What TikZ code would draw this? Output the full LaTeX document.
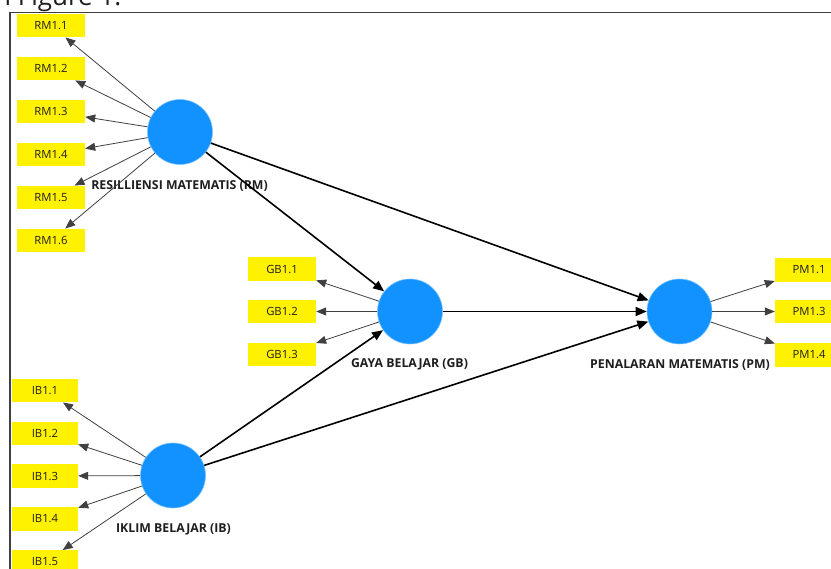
\documentclass[tikz,border=0pt]{standalone}
\usepackage{fontspec}
\setmainfont{Open Sans}
\usetikzlibrary{arrows.meta}
\definecolor{lv}{RGB}{18,146,255}
\definecolor{txt}{RGB}{30,30,30}
\begin{document}
\begin{tikzpicture}[x=1pt,y=-1pt,
  lat/.style={circle,fill=lv,draw=lv!55!white,line width=0.6pt,minimum size=65pt,inner sep=0pt},
  ind/.style={fill=yellow,minimum width=68pt,minimum height=23.5pt,inner sep=0pt,font=\fontsize{11.3}{13}\selectfont,text=txt},
  indb/.style={ind,minimum width=66pt},
  lbl/.style={font=\bfseries\fontsize{12.3}{14}\selectfont,text=txt},
  outer/.style={draw=black!75,line width=0.8pt,-{Triangle[length=10pt,width=8pt]}},
  inner/.style={draw=black,line width=1.6pt,-{Triangle[length=11pt,width=9pt]}}]
\useasboundingbox (0,0) rectangle (831,569);
\clip (0,0) rectangle (831,569);
% heading fragment
\node[anchor=base west,inner sep=0pt,font=\fontsize{26}{30}\selectfont,text=txt] (head) at (-5,6) {n Figure 1.};
% frame
\draw[draw=black!75,line width=1.5pt] (10,580) -- (10,12.5) -- (840,12.5);
% latent variables
\node[lat] (RM) at (180,132) {};
\node[lat] (GB) at (410,311.5) {};
\node[lat] (PM) at (679.5,311.5) {};
\node[lat] (IB) at (173,475.5) {};
\node[lbl] (RMl) at (179.5,186) {RESILLIENSI MATEMATIS (RM)};
\node[lbl] (GBl) at (409.5,364) {GAYA BELAJAR (GB)};
\node[lbl] (PMl) at (680,365) {PENALARAN MATEMATIS (PM)};
\node[lbl] (IBl) at (173.5,529) {IKLIM BELAJAR (IB)};
% indicators RM
\node[ind] (rm1) at (51,25.5) {RM1.1};
\node[ind] (rm2) at (51,68.5) {RM1.2};
\node[ind] (rm3) at (51,111.5) {RM1.3};
\node[ind] (rm4) at (51,154.5) {RM1.4};
\node[ind] (rm5) at (51,197.5) {RM1.5};
\node[ind] (rm6) at (51,240.5) {RM1.6};
% indicators GB
\node[ind] (gb1) at (282,269) {GB1.1};
\node[ind] (gb2) at (282,311.5) {GB1.2};
\node[ind] (gb3) at (282,354.5) {GB1.3};
% indicators PM
\node[ind] (pm1) at (809,270) {PM1.1};
\node[ind] (pm3) at (809,311.5) {PM1.3};
\node[ind] (pm4) at (809,355) {PM1.4};
% indicators IB
\node[indb] (ib1) at (45,390.5) {IB1.1};
\node[indb] (ib2) at (45,433.5) {IB1.2};
\node[indb] (ib3) at (45,476) {IB1.3};
\node[indb] (ib4) at (45,519) {IB1.4};
\node[indb] (ib5) at (45,562) {IB1.5};
% outer arrows
\foreach \i in {rm1,rm2,rm3,rm4,rm5,rm6} \draw[outer] (RM) -- (\i);
\foreach \i in {gb1,gb2,gb3} \draw[outer] (GB) -- (\i);
\foreach \i in {pm1,pm3,pm4} \draw[outer] (PM) -- (\i);
\foreach \i in {ib1,ib2,ib3,ib4,ib5} \draw[outer] (IB) -- (\i);
% inner arrows
\draw[inner] (RM) -- (GB);
\draw[inner] (RM) -- (PM);
\draw[inner] (GB) -- (PM);
\draw[inner] (IB) -- (GB);
\draw[inner] (IB) -- (PM);
\end{tikzpicture}
\end{document}
